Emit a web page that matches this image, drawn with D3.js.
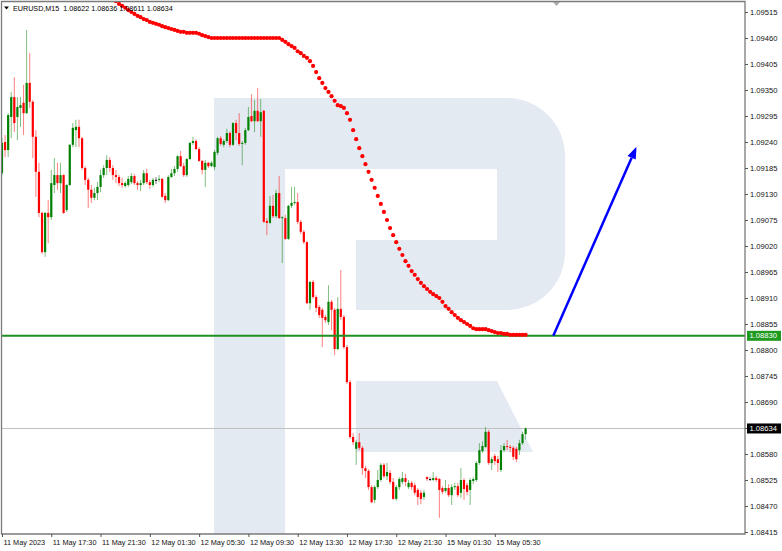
<!DOCTYPE html>
<html><head><meta charset="utf-8">
<script src="https://cdn.jsdelivr.net/npm/d3@7"></script>
<style>body{margin:0;background:#fff}svg{display:block}text{font-family:"Liberation Sans",Arial,sans-serif}</style>
</head><body><svg id="c" width="782" height="551"></svg>
<script>
const symbolTitle = "EURUSD,M15";
const timeLabels = ["11 May 2023","11 May 17:30","11 May 21:30","12 May 01:30","12 May 05:30","12 May 09:30","12 May 13:30","12 May 17:30","12 May 21:30","15 May 01:30","15 May 05:30"];
const timeLabelBars = [0,16,32,48,64,80,96,112,128,144,160];
const priceTicks = [1.09515,1.09460,1.09405,1.09350,1.09295,1.09240,1.09185,1.09130,1.09075,1.09020,1.08965,1.08910,1.08855,1.08800,1.08745,1.08690,1.08635,1.08580,1.08525,1.08470,1.08415];
const open = [1.09174,1.09240,1.09223,1.09293,1.09335,1.09293,1.09312,1.09323,1.09301,1.09365,
1.09325,1.09251,1.09177,1.09090,1.09007,1.09090,1.09081,1.09149,1.09170,1.09153,
1.09170,1.09096,1.09149,1.09234,1.09265,1.09272,1.09248,1.09185,1.09160,1.09139,
1.09122,1.09132,1.09145,1.09170,1.09185,1.09202,1.09185,1.09170,1.09166,1.09153,
1.09147,1.09149,1.09155,1.09168,1.09153,1.09149,1.09153,1.09174,1.09155,1.09149,
1.09160,1.09160,1.09162,1.09126,1.09117,1.09166,1.09174,1.09183,1.09210,1.09189,
1.09170,1.09204,1.09238,1.09242,1.09225,1.09200,1.09181,1.09196,1.09189,1.09187,
1.09217,1.09248,1.09234,1.09242,1.09259,1.09234,1.09280,1.09259,1.09236,1.09238,
1.09265,1.09295,1.09284,1.09306,1.09284,1.09306,1.09073,1.09069,1.09105,1.09083,
1.09132,1.09079,1.09079,1.09035,1.09105,1.09111,1.09113,1.09071,1.09050,1.09028,
1.08899,1.08944,1.08912,1.08891,1.08885,1.08870,1.08859,1.08902,1.08885,1.08802,
1.08887,1.08870,1.08806,1.08732,1.08616,1.08591,1.08605,1.08593,1.08550,1.08544,
1.08510,1.08483,1.08510,1.08525,1.08557,1.08533,1.08540,1.08521,1.08485,1.08510,
1.08521,1.08529,1.08510,1.08519,1.08514,1.08504,1.08498,1.08489,1.08531,1.08527,
1.08525,1.08529,1.08527,1.08508,1.08502,1.08508,1.08493,1.08510,1.08512,1.08498,
1.08525,1.08514,1.08504,1.08523,1.08525,1.08561,1.08586,1.08595,1.08627,1.08561,
1.08576,1.08569,1.08546,1.08588,1.08597,1.08595,1.08593,1.08591,1.08588,1.08603,
1.08622];
const high = [1.09248,1.09255,1.09301,1.09346,1.09377,1.09335,1.09335,1.09361,1.09477,1.09428,
1.09329,1.09265,1.09196,1.09092,1.09092,1.09117,1.09181,1.09206,1.09196,1.09196,
1.09172,1.09151,1.09236,1.09280,1.09287,1.09287,1.09251,1.09189,1.09164,1.09149,
1.09143,1.09155,1.09181,1.09191,1.09212,1.09208,1.09191,1.09181,1.09170,1.09164,
1.09157,1.09168,1.09174,1.09172,1.09157,1.09160,1.09181,1.09183,1.09160,1.09164,
1.09166,1.09170,1.09164,1.09132,1.09170,1.09183,1.09189,1.09212,1.09221,1.09196,
1.09206,1.09240,1.09251,1.09246,1.09229,1.09202,1.09202,1.09198,1.09200,1.09223,
1.09251,1.09253,1.09246,1.09268,1.09263,1.09282,1.09287,1.09301,1.09242,1.09270,
1.09314,1.09341,1.09329,1.09354,1.09331,1.09308,1.09079,1.09126,1.09128,1.09139,
1.09168,1.09083,1.09086,1.09107,1.09145,1.09145,1.09132,1.09075,1.09054,1.09031,
1.08946,1.08948,1.08916,1.08895,1.08889,1.08874,1.08937,1.08906,1.08889,1.08912,
1.08969,1.08874,1.08811,1.08737,1.08624,1.08610,1.08624,1.08597,1.08555,1.08548,
1.08514,1.08514,1.08546,1.08561,1.08561,1.08561,1.08546,1.08529,1.08514,1.08531,
1.08542,1.08538,1.08525,1.08523,1.08519,1.08508,1.08504,1.08504,1.08533,1.08531,
1.08542,1.08533,1.08529,1.08512,1.08525,1.08516,1.08516,1.08519,1.08519,1.08550,
1.08529,1.08519,1.08529,1.08531,1.08565,1.08603,1.08607,1.08637,1.08631,1.08574,
1.08580,1.08576,1.08599,1.08603,1.08610,1.08599,1.08597,1.08595,1.08610,1.08627,
1.08636];
const low = [1.09170,1.09208,1.09208,1.09248,1.09261,1.09244,1.09272,1.09255,1.09299,1.09312,
1.09206,1.09124,1.09081,1.09003,1.08997,1.09026,1.09075,1.09132,1.09139,1.09132,
1.09088,1.09092,1.09147,1.09229,1.09229,1.09229,1.09181,1.09149,1.09100,1.09111,
1.09117,1.09117,1.09134,1.09164,1.09170,1.09177,1.09160,1.09153,1.09147,1.09143,
1.09143,1.09145,1.09151,1.09149,1.09139,1.09136,1.09149,1.09151,1.09141,1.09145,
1.09151,1.09155,1.09122,1.09111,1.09115,1.09164,1.09168,1.09177,1.09187,1.09166,
1.09166,1.09202,1.09234,1.09223,1.09198,1.09172,1.09145,1.09185,1.09187,1.09181,
1.09212,1.09232,1.09229,1.09238,1.09229,1.09232,1.09244,1.09232,1.09191,1.09234,
1.09263,1.09282,1.09261,1.09282,1.09251,1.09069,1.09043,1.09066,1.09079,1.09079,
1.09077,1.08984,1.09033,1.09033,1.09100,1.09107,1.09066,1.09045,1.09024,1.08897,
1.08885,1.08908,1.08880,1.08868,1.08806,1.08857,1.08853,1.08842,1.08789,1.08800,
1.08863,1.08802,1.08728,1.08612,1.08599,1.08557,1.08588,1.08536,1.08529,1.08504,
1.08476,1.08476,1.08506,1.08521,1.08529,1.08525,1.08516,1.08483,1.08481,1.08504,
1.08516,1.08512,1.08506,1.08504,1.08493,1.08472,1.08474,1.08483,1.08523,1.08523,
1.08523,1.08521,1.08445,1.08495,1.08498,1.08489,1.08472,1.08504,1.08489,1.08487,
1.08483,1.08493,1.08472,1.08516,1.08521,1.08557,1.08582,1.08593,1.08557,1.08546,
1.08557,1.08542,1.08542,1.08584,1.08588,1.08584,1.08567,1.08563,1.08578,1.08599,
1.08611];
const close = [1.09238,1.09223,1.09297,1.09335,1.09280,1.09314,1.09318,1.09301,1.09365,1.09325,
1.09251,1.09177,1.09090,1.09007,1.09090,1.09081,1.09153,1.09170,1.09153,1.09170,
1.09090,1.09149,1.09234,1.09270,1.09272,1.09248,1.09185,1.09160,1.09139,1.09122,
1.09132,1.09145,1.09170,1.09185,1.09202,1.09185,1.09170,1.09166,1.09153,1.09149,
1.09153,1.09162,1.09168,1.09153,1.09149,1.09153,1.09174,1.09155,1.09149,1.09160,
1.09160,1.09162,1.09124,1.09117,1.09166,1.09174,1.09183,1.09210,1.09189,1.09170,
1.09204,1.09238,1.09242,1.09225,1.09200,1.09181,1.09196,1.09189,1.09196,1.09219,
1.09248,1.09236,1.09242,1.09259,1.09234,1.09280,1.09259,1.09236,1.09238,1.09265,
1.09293,1.09284,1.09306,1.09284,1.09303,1.09071,1.09069,1.09105,1.09083,1.09132,
1.09079,1.09081,1.09035,1.09105,1.09111,1.09113,1.09071,1.09050,1.09028,1.08899,
1.08944,1.08912,1.08889,1.08874,1.08868,1.08863,1.08902,1.08885,1.08802,1.08887,
1.08870,1.08806,1.08732,1.08616,1.08605,1.08605,1.08593,1.08550,1.08544,1.08510,
1.08478,1.08510,1.08525,1.08557,1.08533,1.08542,1.08521,1.08485,1.08510,1.08527,
1.08529,1.08521,1.08519,1.08510,1.08498,1.08489,1.08485,1.08498,1.08527,1.08527,
1.08529,1.08525,1.08504,1.08500,1.08508,1.08493,1.08510,1.08512,1.08493,1.08525,
1.08506,1.08500,1.08525,1.08527,1.08561,1.08588,1.08597,1.08627,1.08561,1.08569,
1.08565,1.08561,1.08588,1.08597,1.08595,1.08593,1.08574,1.08569,1.08603,1.08622,
1.08634];
const maStartBar = 36;
const maValues = [1.09547,1.09538,1.09532,1.09528,1.09524,1.09519,1.09515,1.09511,1.09507,1.09504,
1.09500,1.09498,1.09494,1.09492,1.09490,1.09488,1.09485,1.09483,1.09481,1.09479,
1.09477,1.09475,1.09473,1.09473,1.09471,1.09471,1.09471,1.09471,1.09469,1.09466,
1.09464,1.09462,
1.09460,1.09460,1.09460,1.09460,1.09460,1.09460,1.09460,1.09460,1.09460,1.09460,
1.09460,1.09460,1.09460,1.09460,1.09460,1.09460,1.09460,1.09460,1.09460,1.09460,
1.09460,1.09460,1.09460,
1.09456,1.09452,1.09447,1.09443,1.09439,1.09432,1.09428,1.09422,1.09418,1.09411,
1.09401,1.09388,1.09375,1.09365,1.09354,1.09346,1.09337,1.09327,1.09318,1.09316,
1.09312,1.09301,1.09287,1.09265,1.09246,1.09227,1.09210,1.09193,1.09177,1.09160,
1.09143,1.09126,1.09109,1.09092,1.09075,1.09058,1.09043,1.09028,1.09014,1.09001,
1.08988,1.08978,1.08967,1.08959,1.08950,1.08942,1.08935,1.08929,1.08923,1.08918,
1.08914,1.08910,1.08902,1.08893,1.08887,1.08880,1.08874,1.08868,1.08863,1.08859,
1.08855,1.08851,1.08846,1.08844,1.08844,1.08844,1.08844,1.08842,1.08840,1.08838,
1.08836,1.08836,1.08834,1.08834,1.08832,1.08832,1.08832,1.08832,1.08832,1.08832];
const levelPrice = 1.08830;
const bidPrice = 1.08634;
const arrowStart = {bar: 179, price: 1.08830};
const arrowEnd = {bar: 206, price: 1.09230};

const svg = d3.select("#c");
const P = {l: 1.5, t: 1.5, r: 745, b: 534};
const x = d3.scaleLinear().domain([0, 170]).range([2, 525.6]);
const y = d3.scaleLinear().domain([1.08415, 1.09515]).range([532, 12]);
const fmt = d3.format(".5f");

svg.append("defs").append("clipPath").attr("id", "pc")
  .append("rect").attr("x", P.l).attr("y", P.t).attr("width", P.r - P.l).attr("height", P.b - P.t);
const g = svg.append("g").attr("clip-path", "url(#pc)");

// watermark logo
const wm = g.append("g").attr("fill", "#e4eaf2");
wm.append("rect").attr("x", 214).attr("y", 98).attr("width", 71).attr("height", 440);
wm.append("path").attr("d", "M285,98 H507 A58,58 0 0 1 565,156 V252 A58,58 0 0 1 507,310 H356 V240 H497 V169 H285 Z");
wm.append("path").attr("d", "M356,381 H497 L533,452 H356 Z");

// bid line
g.append("line").attr("x1", P.l).attr("x2", P.r).attr("y1", y(bidPrice)).attr("y2", y(bidPrice))
  .attr("stroke", "#c0c0c0").attr("stroke-width", 1);

// candles
const bars = d3.range(open.length).map(i => ({i, o: open[i], h: high[i], l: low[i], c: close[i]}));
const col = d => d.c > d.o ? "#008000" : (d.c < d.o ? "#ff0000" : "#000000");
g.append("g").selectAll("line").data(bars).join("line")
  .attr("x1", d => x(d.i)).attr("x2", d => x(d.i))
  .attr("y1", d => y(d.h)).attr("y2", d => y(d.l))
  .attr("stroke", col).attr("stroke-opacity", 0.5).attr("stroke-width", 1);
g.append("g").selectAll("rect").data(bars).join("rect")
  .attr("x", d => x(d.i) - 1.1).attr("width", 2.2)
  .attr("y", d => y(Math.max(d.o, d.c)))
  .attr("height", d => Math.max(1, Math.abs(y(d.o) - y(d.c))))
  .attr("fill", col);

// level line
g.append("line").attr("x1", P.l).attr("x2", P.r).attr("y1", y(levelPrice)).attr("y2", y(levelPrice))
  .attr("stroke", "#1f8f1f").attr("stroke-width", 2);

// moving average dots
g.append("g").selectAll("circle").data(maValues).join("circle")
  .attr("cx", (d, k) => x(maStartBar + k)).attr("cy", d => y(d)).attr("r", 2.1).attr("fill", "#ff0000");

// arrow
const ax1 = x(arrowStart.bar), ay1 = y(arrowStart.price), ax2 = x(arrowEnd.bar), ay2 = y(arrowEnd.price);
const ang = Math.atan2(ay2 - ay1, ax2 - ax1), hl = 12, hw = 4.5;
const bx = ax2 - hl * Math.cos(ang), by = ay2 - hl * Math.sin(ang);
g.append("line").attr("x1", ax1).attr("y1", ay1).attr("x2", bx).attr("y2", by)
  .attr("stroke", "#0000ff").attr("stroke-width", 2.5);
g.append("path").attr("fill", "#0000ff")
  .attr("d", `M${ax2},${ay2} L${bx - hw * Math.sin(ang)},${by + hw * Math.cos(ang)} L${bx + hw * Math.sin(ang)},${by - hw * Math.cos(ang)} Z`);

// frame
svg.append("path").attr("d", `M${P.l},${P.b} V${P.t} H${P.r} V${P.b} Z`)
  .attr("fill", "none").attr("stroke", "#7a7a7a").attr("stroke-width", 1.3);
// shift marker
svg.append("path").attr("d", "M553,2 h7 l-3.5,4 Z").attr("fill", "#a8a8a8");

// x axis
const xa = svg.append("g").attr("transform", `translate(0,${P.b})`)
  .call(d3.axisBottom(x).tickValues(timeLabelBars).tickFormat((d, k) => timeLabels[k]).tickSize(3).tickSizeOuter(0));
xa.select(".domain").remove();
xa.selectAll("line").attr("stroke", "#555");
xa.selectAll("text").attr("text-anchor", "start").attr("dx", 0).attr("x", 1).attr("y", 11).attr("dy", 0)
  .attr("font-size", "7.3px").attr("fill", "#111").attr("font-family", "Liberation Sans, Arial, sans-serif");

// y axis
const ya = svg.append("g").attr("transform", `translate(${P.r},0)`)
  .call(d3.axisRight(y).tickValues(priceTicks).tickFormat(fmt).tickSize(3).tickSizeOuter(0));
ya.select(".domain").remove();
ya.selectAll("line").attr("stroke", "#555");
ya.selectAll("text").attr("x", 5).attr("dy", "0.35em").attr("font-size", "7.6px").attr("fill", "#111")
  .attr("font-family", "Liberation Sans, Arial, sans-serif");

// price tags
function tag(price, bg) {
  const yy = y(price);
  svg.append("rect").attr("x", P.r + 2).attr("y", yy - 5).attr("width", 34).attr("height", 10).attr("fill", bg);
  svg.append("text").attr("x", P.r + 4.5).attr("y", yy).attr("dy", "0.35em").attr("font-size", "7.6px")
    .attr("fill", "#fff").text(fmt(price));
}
tag(levelPrice, "#1f9a1f");
tag(bidPrice, "#000");

// header
svg.append("path").attr("d", "M4,6.5 h5 l-2.5,3 Z").attr("fill", "#000");
svg.append("text").attr("x", 13).attr("y", 10.5).attr("font-size", "7.2px").attr("fill", "#000")
  .text(`${symbolTitle}  ${fmt(open[open.length-1])} ${fmt(high[high.length-1])} ${fmt(low[low.length-1])} ${fmt(close[close.length-1])}`)
  .attr("xml:space", "preserve").style("white-space", "pre");
</script></body></html>
